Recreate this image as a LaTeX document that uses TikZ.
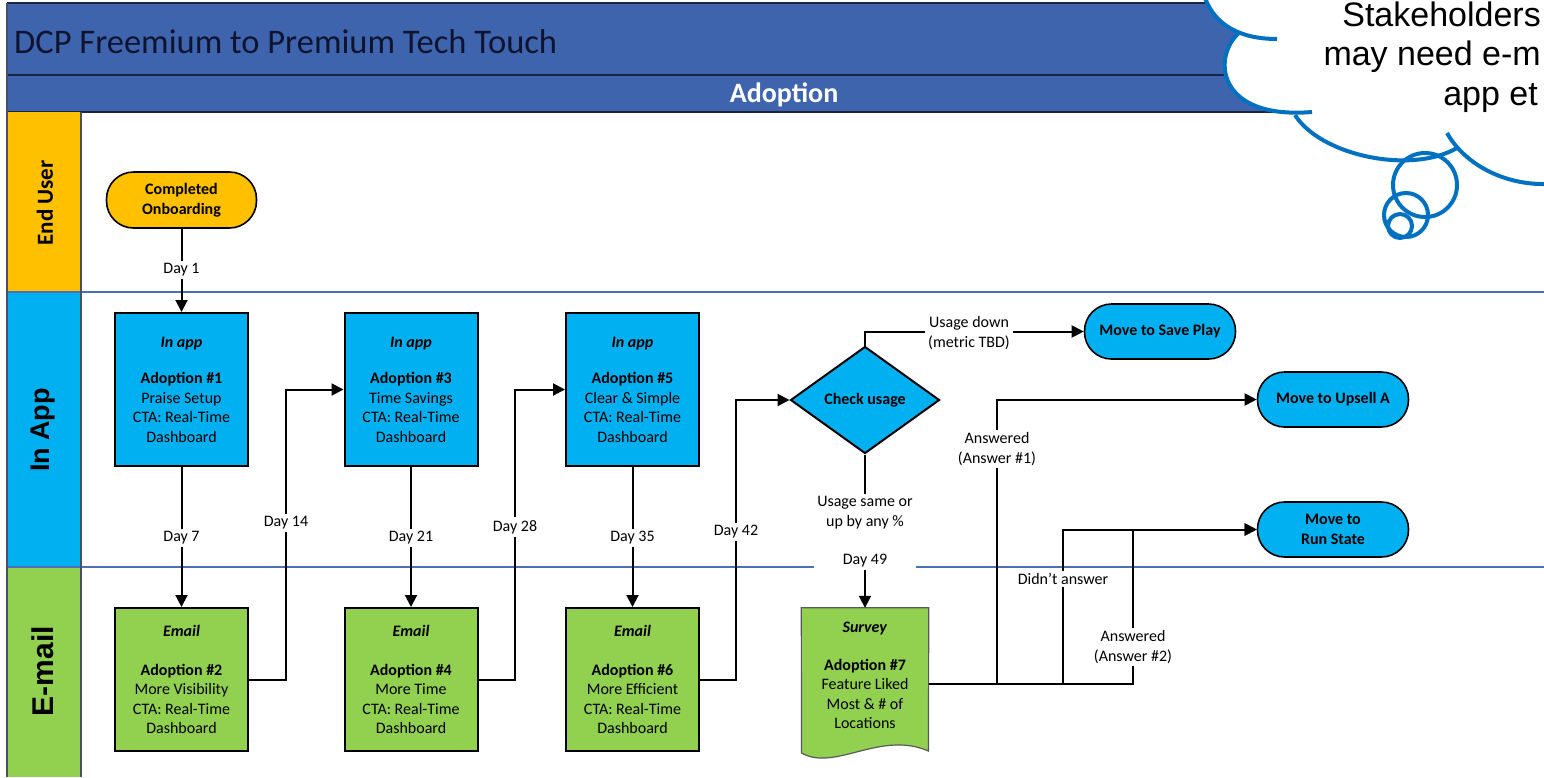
\documentclass[tikz,border=0pt]{standalone}
\usepackage{fontspec}
\setmainfont{Carlito}
\newfontfamily\arialfont{Liberation Sans}
\usetikzlibrary{arrows.meta,shapes.geometric,calc}

\definecolor{hdrblue}{HTML}{3F64AE}
\definecolor{hdrline}{HTML}{1B2440}
\definecolor{laneline}{HTML}{4A70B8}
\definecolor{gold}{HTML}{FFC000}
\definecolor{skyblue}{HTML}{00B0F0}
\definecolor{leaf}{HTML}{92D050}
\definecolor{cloudblue}{HTML}{0070C0}
\definecolor{titleink}{HTML}{0E1430}

\begin{document}
\begin{tikzpicture}[x=1pt,y=-1pt,
  every node/.style={font=\fontsize{16}{19.5}\selectfont, inner sep=0pt},
  conn/.style={line width=2pt, draw=black},
  arr/.style={conn, -{Triangle[length=12pt,width=12pt]}},
  stepbox/.style={draw=black, line width=2pt, minimum width=133pt, align=center},
  inappbox/.style={stepbox, fill=skyblue, minimum height=153pt},
  emailbox/.style={stepbox, fill=leaf, minimum height=143pt},
  pill/.style={draw=black, line width=1.6pt, rounded corners=27pt, minimum width=151pt,
     minimum height=55pt, align=center, font=\fontsize{16}{19.5}\selectfont\bfseries},
  lbl/.style={fill=white, inner xsep=3pt, inner ysep=3pt, align=center},
  lanetitle/.style={rotate=90},
  cloudline/.style={draw=cloudblue, line width=4pt},
  cloudtext/.style={anchor=base east, font=\arialfont\fontsize{34}{40}\selectfont}
]
\useasboundingbox (0,0) rectangle (1544,777);
\clip (0,0) rectangle (1544,777);
\fill[white] (0,0) rectangle (1544,777);

% header bands
\fill[hdrblue] (7,3) rectangle (1544,112);
\draw[hdrline, line width=2pt] (7,3) -- (1544,3);
\draw[hdrline, line width=2pt] (7,75) -- (1544,75);
\draw[hdrline, line width=2pt] (7,112) -- (1544,112);
\node[anchor=west, font=\fontsize{34.5}{38}\selectfont, text=titleink] (title) at (14,42) {DCP Freemium to Premium Tech Touch};
\node[font=\fontsize{28}{30}\selectfont\bfseries, text=white] (phase) at (784,95) {Adoption};

% lane label column
\fill[gold] (7,112) rectangle (81,292);
\fill[skyblue] (7,292) rectangle (81,567);
\fill[leaf] (7,567) rectangle (81,777);
\draw[laneline, line width=1.5pt] (7,292) -- (1544,292);
\draw[laneline, line width=1.5pt] (7,567) -- (1544,567);
\draw[hdrline!80, line width=1.5pt] (81,112) -- (81,777);
\draw[hdrline!80, line width=2pt] (7,3) -- (7,777);
\node[lanetitle, font=\fontsize{23}{26}\selectfont\bfseries] (laneu) at (45,203) {End User};
\node[lanetitle, font=\arialfont\fontsize{27}{30}\selectfont\bfseries] (lanea) at (43,430) {In App};
\node[lanetitle, font=\arialfont\fontsize{30}{33}\selectfont\bfseries] (lanee) at (43,671) {E-mail};

% nodes
\node[pill, fill=gold, minimum width=150pt, minimum height=56pt] (onb) at (181.5,200) {Completed\\Onboarding};

\node[inappbox] (box1) at (181.5,389.5) {\textbf{\textit{In app}}\\[17pt]\textbf{Adoption \#1}\\Praise Setup\\CTA: Real-Time\\Dashboard};
\node[inappbox] (box3) at (411,389.5) {\textbf{\textit{In app}}\\[17pt]\textbf{Adoption \#3}\\Time Savings\\CTA: Real-Time\\Dashboard};
\node[inappbox] (box5) at (632.5,389.5) {\textbf{\textit{In app}}\\[17pt]\textbf{Adoption \#5}\\Clear \& Simple\\CTA: Real-Time\\Dashboard};

\node[emailbox] (box2) at (181.5,679.5) {\textbf{\textit{Email}}\\[19pt]\textbf{Adoption \#2}\\More Visibility\\CTA: Real-Time\\Dashboard};
\node[emailbox] (box4) at (411,679.5) {\textbf{\textit{Email}}\\[19pt]\textbf{Adoption \#4}\\More Time\\CTA: Real-Time\\Dashboard};
\node[emailbox] (box6) at (632.5,679.5) {\textbf{\textit{Email}}\\[19pt]\textbf{Adoption \#6}\\More Efficient\\CTA: Real-Time\\Dashboard};

\node[diamond, draw=black, line width=2pt, fill=skyblue, minimum width=149pt, minimum height=107pt, font=\fontsize{16}{19.5}\selectfont\bfseries] (chk) at (865,400) {Check usage};

\node[pill, fill=skyblue] (save) at (1160,331.5) {Move to Save Play};
\node[pill, fill=skyblue] (upsell) at (1333,399.5) {Move to Upsell A};
\node[pill, fill=skyblue] (run) at (1333,529.5) {Move to\\Run State};

% survey document shape
\node[minimum width=127pt, minimum height=144pt] (survey) at (865,680) {};
\filldraw[fill=leaf, draw=black!65, line width=1.2pt]
  (survey.north west) -- (survey.north east) -- (928.5,751)
  .. controls (880,730) and (835,772) .. (801.5,753) -- cycle;
\node[align=center] (surveytext) at (865,675.5) {\textbf{\textit{Survey}}\\[18pt]\textbf{Adoption \#7}\\Feature Liked\\Most \& \# of\\Locations};

% connector corners
\coordinate (c14) at (286,389.5);
\coordinate (c28) at (515,389.5);
\coordinate (c42) at (736,400);
\coordinate (sv) at ([yshift=-4pt]survey.east);
\coordinate (j1) at (997,684);
\coordinate (j2) at (1063,684);
\coordinate (j3) at (1133,684);

% connectors
\draw[arr] (onb.south) -- (box1.north);
\draw[arr] (box1.south) -- (box2.north);
\draw[arr] (box3.south) -- (box4.north);
\draw[arr] (box5.south) -- (box6.north);
\draw[arr] (box2.east) -| (c14) -- (box3.west);
\draw[arr] (box4.east) -| (c28) -- (box5.west);
\draw[arr] (box6.east) -| (c42) -- (chk.west);
\draw[arr] (chk.north) |- (save.west);
\draw[arr] (chk.south) -- (survey.north);
\draw[arr] (sv) -- (j1) |- (upsell.west);
\draw[arr] (sv) -- (j2) |- (run.west);
\draw[arr] (sv) -- (j3) |- (run.west);

% labels
\node[lbl] (d1) at (181.5,270) {Day 1};
\node[lbl] (d7) at (181.5,538) {Day 7};
\node[lbl] (d14) at (286,523) {Day 14};
\node[lbl] (d21) at (411,538) {Day 21};
\node[lbl] (d28) at (515,527) {Day 28};
\node[lbl] (d35) at (632.5,538) {Day 35};
\node[lbl] (d42) at (736,532) {Day 42};
\node[lbl] (ud) at (969,333) {Usage down\\(metric TBD)};
\node[lbl, minimum width=100pt] (us) at (865,532) {Usage same or\\up by any \%\\[19pt]Day 49};
\node[lbl] (a1) at (997,449) {Answered\\(Answer \#1)};
\node[lbl, inner ysep=2pt] (na) at (1063,579) {Didn't answer};
\node[lbl] (a2) at (1133,647) {Answered\\(Answer \#2)};

% thought cloud
\fill[white] (1205,0) .. controls (1215,25) and (1240,39) .. (1277,39)
  -- (1240,32) .. controls (1212,55) and (1215,120) .. (1312,112)
  -- (1295,115) .. controls (1320,155) and (1410,175) .. (1457,148)
  -- (1447,133) .. controls (1465,165) and (1505,185) .. (1544,184)
  -- (1544,0) -- cycle;
\draw[cloudline] (1205,-2) .. controls (1215,25) and (1240,39) .. (1277,39);
\draw[cloudline] (1240,32) .. controls (1212,55) and (1215,120) .. (1312,112);
\draw[cloudline] (1295,115) .. controls (1320,155) and (1410,175) .. (1457,148);
\draw[cloudline] (1447,133) .. controls (1465,165) and (1505,185) .. (1546,184);
\draw[cloudline] (1425,185) circle[radius=32];
\draw[cloudline] (1406,215) circle[radius=22];
\draw[cloudline] (1400,226) circle[radius=12];
\node[cloudtext] (ct1) at (1541,26) {Stakeholders};
\node[cloudtext] (ct2) at (1541,65) {may need e-m};
\node[cloudtext] (ct3) at (1538,105) {app et};
\end{tikzpicture}
\end{document}
